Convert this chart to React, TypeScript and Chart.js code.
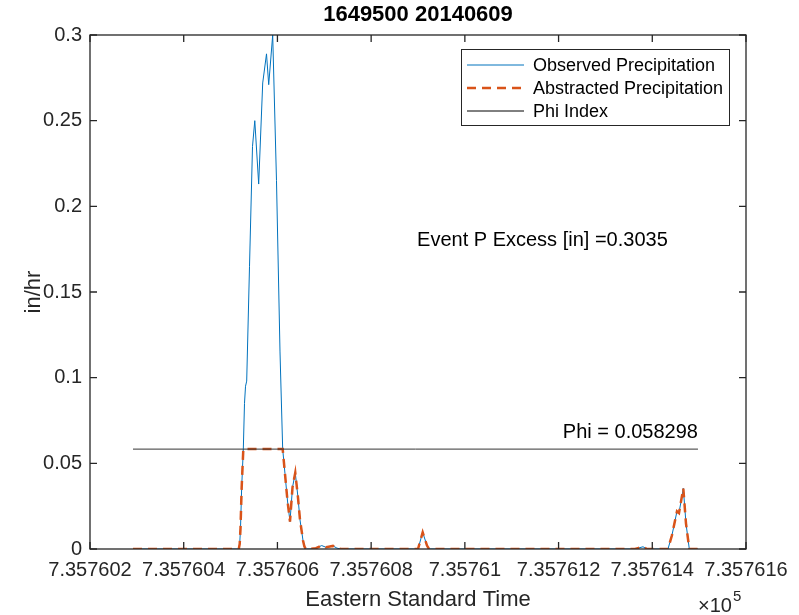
import React, { useEffect, useRef } from "react";
import { Chart, registerables } from "chart.js";
Chart.register(...registerables);

const chartTitle = "1649500 20140609";
const xAxisTitle = "Eastern Standard Time";
const yAxisTitle = "in/hr";
const seriesNames = ["Observed Precipitation", "Abstracted Precipitation", "Phi Index"];

// Eastern Standard Time as MATLAB datenum
const times = [
  735760.2918, 735760.5175, 735760.5195, 735760.5212, 735760.5237, 735760.5272, 735760.5297,
  735760.5319, 735760.5344, 735760.5404, 735760.5468, 735760.5517, 735760.56, 735760.5686,
  735760.5767, 735760.5814, 735760.5899, 735760.598, 735760.6055, 735760.6112, 735760.6161,
  735760.6215, 735760.6268, 735760.6322, 735760.6381, 735760.6439, 735760.6482, 735760.6546,
  735760.6575, 735760.6603, 735760.6695, 735760.6823, 735760.6945, 735760.7036, 735760.7122,
  735760.7186, 735760.7271, 735760.7357, 735760.9, 735760.91, 735760.9192, 735760.9235,
  735761.3631, 735761.3695, 735761.3802, 735761.3887, 735761.4335, 735761.442, 735761.4527,
  735761.457, 735761.4662, 735761.4719, 735761.479, 735761.4975,
];
// Observed precipitation, in/hr
const observed = [
  0, 0, 0.003, 0.012, 0.036, 0.0584, 0.085,
  0.095, 0.098, 0.165, 0.235, 0.25, 0.213, 0.272,
  0.289, 0.271, 0.3, 0.215, 0.115, 0.0584, 0.044,
  0.028, 0.016, 0.036, 0.0445, 0.03, 0.017, 0.005,
  0.0015, 0, 0, 0.0005, 0.002, 0.001, 0.0015,
  0.0018, 0.0005, 0, 0, 0.0097, 0.002, 0,
  0, 0.0005, 0.0013, 0, 0, 0.008, 0.022,
  0.021, 0.0354, 0.015, 0, 0,
];
const phiValue = 0.058298;
const phiTimes = [735760.2918, 735761.4975];
const eventExcess = 0.3035;

const xTickValues = [735760.2, 735760.4, 735760.6, 735760.8, 735761.0, 735761.2, 735761.4, 735761.6];
const xTickLabels = ["7.357602", "7.357604", "7.357606", "7.357608", "7.35761", "7.357612", "7.357614", "7.357616"];
const yTickValues = [0, 0.05, 0.1, 0.15, 0.2, 0.25, 0.3];
const yTickLabels = ["0", "0.05", "0.1", "0.15", "0.2", "0.25", "0.3"];

const FONT = '"Liberation Sans", Arial, Helvetica, sans-serif';
const BLUE = "#0072BD";
const ORANGE = "#D95319";
const AXIS = "#262626";

const decorPlugin = {
  id: "matlabDecor",
  afterDraw(chart: any) {
    const ctx = chart.ctx as CanvasRenderingContext2D;
    const { left, right, top, bottom } = chart.chartArea;
    const xs = chart.scales.x;
    const ys = chart.scales.y;
    ctx.save();
    // box
    ctx.strokeStyle = AXIS;
    ctx.lineWidth = 1.3;
    ctx.strokeRect(left, top, right - left, bottom - top);
    // inward ticks
    const tl = 7;
    ctx.beginPath();
    xTickValues.forEach((v) => {
      const px = xs.getPixelForValue(v);
      ctx.moveTo(px, bottom);
      ctx.lineTo(px, bottom - tl);
      ctx.moveTo(px, top);
      ctx.lineTo(px, top + tl);
    });
    yTickValues.forEach((v) => {
      const py = ys.getPixelForValue(v);
      ctx.moveTo(left, py);
      ctx.lineTo(left + tl, py);
      ctx.moveTo(right, py);
      ctx.lineTo(right - tl, py);
    });
    ctx.stroke();

    // title
    ctx.fillStyle = "#000";
    ctx.textAlign = "center";
    ctx.textBaseline = "middle";
    ctx.font = `bold 22px ${FONT}`;
    ctx.fillText(chartTitle, (left + right) / 2, 15);

    // axis titles
    ctx.fillStyle = AXIS;
    ctx.font = `22px ${FONT}`;
    ctx.fillText(xAxisTitle, (left + right) / 2, 600);
    ctx.save();
    ctx.translate(34, (top + bottom) / 2);
    ctx.rotate(-Math.PI / 2);
    ctx.fillText(yAxisTitle, 0, 0);
    ctx.restore();

    // exponent
    ctx.textAlign = "left";
    ctx.textBaseline = "alphabetic";
    ctx.font = `20px ${FONT}`;
    ctx.fillText("\u00d710", 698, 612);
    const w = ctx.measureText("\u00d710").width;
    ctx.font = `15px ${FONT}`;
    ctx.fillText("5", 699 + w, 601);

    // annotations
    ctx.fillStyle = "#000";
    ctx.font = `20px ${FONT}`;
    ctx.textBaseline = "middle";
    ctx.textAlign = "left";
    ctx.fillText(`Event P Excess [in] =${eventExcess}`, xs.getPixelForValue(735760.898), ys.getPixelForValue(0.18));
    ctx.textAlign = "right";
    ctx.fillText(`Phi = ${phiValue}`, xs.getPixelForValue(phiTimes[1]), ys.getPixelForValue(phiValue + 0.0095));

    // legend
    const lx = 461, ly = 49, lw = 268, lh = 76;
    ctx.fillStyle = "#fff";
    ctx.fillRect(lx, ly, lw, lh);
    ctx.strokeStyle = AXIS;
    ctx.lineWidth = 1;
    ctx.strokeRect(lx + 0.5, ly + 0.5, lw, lh);
    const rows = [65, 88, 111];
    const styles = [
      { c: BLUE, w: 1, d: [] as number[] },
      { c: ORANGE, w: 2.5, d: [9, 6] },
      { c: "#000", w: 1, d: [] as number[] },
    ];
    rows.forEach((ry, i) => {
      ctx.beginPath();
      ctx.strokeStyle = styles[i].c;
      ctx.lineWidth = styles[i].w;
      ctx.setLineDash(styles[i].d);
      ctx.moveTo(467, ry);
      ctx.lineTo(524, ry);
      ctx.stroke();
      ctx.setLineDash([]);
      ctx.fillStyle = "#000";
      ctx.font = `18px ${FONT}`;
      ctx.textAlign = "left";
      ctx.textBaseline = "middle";
      ctx.fillText(seriesNames[i], 533, ry + 1);
    });
    ctx.restore();
  },
};

export default function App() {
  const ref = useRef<HTMLCanvasElement | null>(null);
  useEffect(() => {
    document.body.style.margin = "0";
    const canvas = ref.current!;
    const abstracted = observed.map((v) => Math.min(v, phiValue));
    const chart = new Chart(canvas, {
      type: "line",
      data: {
        datasets: [
          {
            label: seriesNames[0],
            data: times.map((t, i) => ({ x: t, y: observed[i] })),
            borderColor: BLUE,
            borderWidth: 1,
            pointRadius: 0,
            tension: 0,
            order: 3,
          },
          {
            label: seriesNames[1],
            data: times.map((t, i) => ({ x: t, y: abstracted[i] })),
            borderColor: ORANGE,
            borderWidth: 2.5,
            borderDash: [9, 6],
            pointRadius: 0,
            tension: 0,
            order: 2,
          },
          {
            label: seriesNames[2],
            data: phiTimes.map((t) => ({ x: t, y: phiValue })),
            borderColor: "#333",
            borderWidth: 1,
            pointRadius: 0,
            order: 1,
          },
        ],
      },
      options: {
        animation: false,
        responsive: false,
        devicePixelRatio: 1,
        layout: { padding: { left: 0, right: 53, top: 35, bottom: 0 } },
        plugins: { legend: { display: false }, title: { display: false }, tooltip: { enabled: false } },
        scales: {
          x: {
            type: "linear",
            min: xTickValues[0],
            max: xTickValues[xTickValues.length - 1],
            grid: { display: false, drawTicks: false },
            border: { display: false },
            afterBuildTicks: (s: any) => {
              s.ticks = xTickValues.map((value) => ({ value }));
            },
            afterFit: (s: any) => {
              s.height = 66;
            },
            ticks: {
              autoSkip: false,
              maxRotation: 0,
              padding: 9,
              color: AXIS,
              font: { family: FONT, size: 20 },
              callback: (_v: any, i: number) => xTickLabels[i],
            },
          },
          y: {
            type: "linear",
            min: yTickValues[0],
            max: yTickValues[yTickValues.length - 1],
            grid: { display: false, drawTicks: false },
            border: { display: false },
            afterBuildTicks: (s: any) => {
              s.ticks = yTickValues.map((value) => ({ value }));
            },
            afterFit: (s: any) => {
              s.width = 90;
            },
            ticks: {
              autoSkip: false,
              padding: 8,
              color: AXIS,
              font: { family: FONT, size: 20 },
              callback: (_v: any, i: number) => yTickLabels[i],
            },
          },
        },
      },
      plugins: [decorPlugin],
    } as any);
    return () => chart.destroy();
  }, []);
  return (
    <div style={{ position: "absolute", left: 0, top: 0, width: 799, height: 615, background: "#fff" }}>
      <canvas ref={ref} width={799} height={615} style={{ width: 799, height: 615, display: "block" }} />
    </div>
  );
}
